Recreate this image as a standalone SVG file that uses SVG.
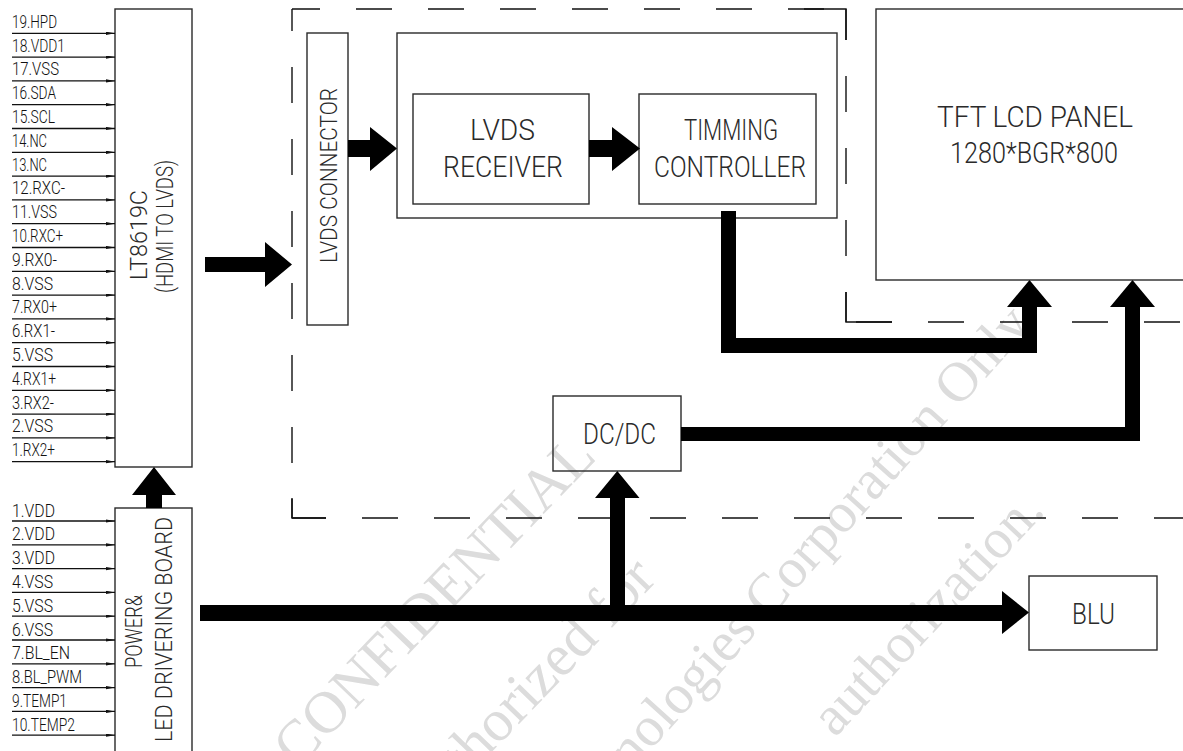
<svg xmlns="http://www.w3.org/2000/svg" width="1183" height="751" viewBox="0 0 1183 751">
<defs>
<marker id="pa" markerUnits="userSpaceOnUse" markerWidth="10" markerHeight="4" refX="9" refY="1.6" orient="auto">
<path d="M0,0 L9,1.6 L0,3.2 z" fill="#111"/>
</marker>
<style>
.bx{fill:none;stroke:#2a2a2a;stroke-width:1.4}
.pin{stroke:#111;stroke-width:1.3;marker-end:url(#pa)}
.pl{font-family:Roboto,"Liberation Sans",Arial,sans-serif;font-weight:300;font-size:19px;fill:#111}
.bt{font-family:Roboto,"Liberation Sans",Arial,sans-serif;font-weight:300;font-size:30px;fill:#2a2a2a;text-anchor:middle}
.rt{font-family:Roboto,"Liberation Sans",Arial,sans-serif;font-weight:300;font-size:23px;fill:#2a2a2a;text-anchor:middle}
.dash{fill:none;stroke:#111;stroke-width:1.4;stroke-dasharray:36 36}
.sol{fill:none;stroke:#111;stroke-width:1.4}
.bar{fill:#000;stroke:none}
.wm{font-family:"Liberation Serif","Times New Roman",serif;font-size:56px;fill:#dcdcdc}
</style>
</defs>
<rect width="1183" height="751" fill="#fff"/>

<g id="watermark">
<text class="wm" text-anchor="end" transform="translate(598,458) rotate(-46)" style="font-size:59px">CONFIDENTIAL</text>
<text class="wm" text-anchor="end" transform="translate(658,580) rotate(-46)" style="font-size:59px">Authorized for</text>
<text class="wm" text-anchor="end" transform="translate(1040,318) rotate(-48)">Technologies Corporation Only.</text>
<text class="wm" text-anchor="end" transform="translate(1046,512) rotate(-47)">authorization.</text>
</g>

<g id="dashed-boundary">
<line class="dash" x1="292" y1="9" x2="292" y2="518" stroke-dashoffset="14"/>
<line class="dash" x1="292" y1="9" x2="846" y2="9" stroke-dashoffset="8"/>
<line class="dash" x1="846" y1="9" x2="846" y2="322" stroke-dashoffset="5"/>
<line class="dash" x1="846" y1="322" x2="1183" y2="322" stroke-dashoffset="62"/>
<line class="dash" x1="292" y1="518" x2="1183" y2="518" stroke-dashoffset="2"/>
<path class="sol" d="M804,9 H846 V40 M846,292 V322 H892 M292,498 V518 H326"/>
</g>

<g id="lt8619c">
<rect class="bx" x="115" y="9" width="77" height="458"/>
<text class="rt" transform="translate(147,235) rotate(-90)" textLength="90" lengthAdjust="spacingAndGlyphs">LT8619C</text>
<text class="rt" transform="translate(173,226.5) rotate(-90)" textLength="133" lengthAdjust="spacingAndGlyphs">(HDMI TO LVDS)</text>
</g>

<g id="hdmi-pins">
<line class="pin" x1="12" y1="33.3" x2="115" y2="33.3"/>
<line class="pin" x1="12" y1="57.1" x2="115" y2="57.1"/>
<line class="pin" x1="12" y1="80.9" x2="115" y2="80.9"/>
<line class="pin" x1="12" y1="104.7" x2="115" y2="104.7"/>
<line class="pin" x1="12" y1="128.5" x2="115" y2="128.5"/>
<line class="pin" x1="12" y1="152.3" x2="115" y2="152.3"/>
<line class="pin" x1="12" y1="176.1" x2="115" y2="176.1"/>
<line class="pin" x1="12" y1="199.9" x2="115" y2="199.9"/>
<line class="pin" x1="12" y1="223.7" x2="115" y2="223.7"/>
<line class="pin" x1="12" y1="247.5" x2="115" y2="247.5"/>
<line class="pin" x1="12" y1="271.3" x2="115" y2="271.3"/>
<line class="pin" x1="12" y1="295.1" x2="115" y2="295.1"/>
<line class="pin" x1="12" y1="318.9" x2="115" y2="318.9"/>
<line class="pin" x1="12" y1="342.7" x2="115" y2="342.7"/>
<line class="pin" x1="12" y1="366.5" x2="115" y2="366.5"/>
<line class="pin" x1="12" y1="390.3" x2="115" y2="390.3"/>
<line class="pin" x1="12" y1="414.1" x2="115" y2="414.1"/>
<line class="pin" x1="12" y1="437.9" x2="115" y2="437.9"/>
<line class="pin" x1="12" y1="461.7" x2="115" y2="461.7"/>
<text class="pl" x="12" y="27.8" textLength="45" lengthAdjust="spacingAndGlyphs">19.HPD</text>
<text class="pl" x="12" y="51.6" textLength="53" lengthAdjust="spacingAndGlyphs">18.VDD1</text>
<text class="pl" x="12" y="75.4" textLength="47" lengthAdjust="spacingAndGlyphs">17.VSS</text>
<text class="pl" x="12" y="99.2" textLength="44" lengthAdjust="spacingAndGlyphs">16.SDA</text>
<text class="pl" x="12" y="123" textLength="43" lengthAdjust="spacingAndGlyphs">15.SCL</text>
<text class="pl" x="12" y="146.8" textLength="35" lengthAdjust="spacingAndGlyphs">14.NC</text>
<text class="pl" x="12" y="170.6" textLength="35" lengthAdjust="spacingAndGlyphs">13.NC</text>
<text class="pl" x="12" y="194.4" textLength="53" lengthAdjust="spacingAndGlyphs">12.RXC-</text>
<text class="pl" x="12" y="218.2" textLength="45" lengthAdjust="spacingAndGlyphs">11.VSS</text>
<text class="pl" x="12" y="242" textLength="51" lengthAdjust="spacingAndGlyphs">10.RXC+</text>
<text class="pl" x="12" y="265.8" textLength="45" lengthAdjust="spacingAndGlyphs">9.RX0-</text>
<text class="pl" x="12" y="289.6" textLength="41" lengthAdjust="spacingAndGlyphs">8.VSS</text>
<text class="pl" x="12" y="313.4" textLength="45" lengthAdjust="spacingAndGlyphs">7.RX0+</text>
<text class="pl" x="12" y="337.2" textLength="43" lengthAdjust="spacingAndGlyphs">6.RX1-</text>
<text class="pl" x="12" y="361" textLength="41" lengthAdjust="spacingAndGlyphs">5.VSS</text>
<text class="pl" x="12" y="384.8" textLength="44" lengthAdjust="spacingAndGlyphs">4.RX1+</text>
<text class="pl" x="12" y="408.6" textLength="42" lengthAdjust="spacingAndGlyphs">3.RX2-</text>
<text class="pl" x="12" y="432.4" textLength="41" lengthAdjust="spacingAndGlyphs">2.VSS</text>
<text class="pl" x="12" y="456.2" textLength="43" lengthAdjust="spacingAndGlyphs">1.RX2+</text>
</g>

<g id="power-board">
<rect class="bx" x="115" y="508" width="77" height="260"/>
<text class="rt" transform="translate(142,631.5) rotate(-90)" textLength="73" lengthAdjust="spacingAndGlyphs">POWER&amp;</text>
<text class="rt" transform="translate(172,629.5) rotate(-90)" textLength="225" lengthAdjust="spacingAndGlyphs">LED DRIVERING BOARD</text>
</g>

<g id="power-pins">
<line class="pin" x1="12" y1="521" x2="115" y2="521"/>
<line class="pin" x1="12" y1="544.8" x2="115" y2="544.8"/>
<line class="pin" x1="12" y1="568.6" x2="115" y2="568.6"/>
<line class="pin" x1="12" y1="592.4" x2="115" y2="592.4"/>
<line class="pin" x1="12" y1="616.2" x2="115" y2="616.2"/>
<line class="pin" x1="12" y1="640" x2="115" y2="640"/>
<line class="pin" x1="12" y1="663.8" x2="115" y2="663.8"/>
<line class="pin" x1="12" y1="687.6" x2="115" y2="687.6"/>
<line class="pin" x1="12" y1="711.4" x2="115" y2="711.4"/>
<line class="pin" x1="12" y1="735.2" x2="115" y2="735.2"/>
<text class="pl" x="12" y="516.5" textLength="43" lengthAdjust="spacingAndGlyphs">1.VDD</text>
<text class="pl" x="12" y="540.3" textLength="43" lengthAdjust="spacingAndGlyphs">2.VDD</text>
<text class="pl" x="12" y="564.1" textLength="43" lengthAdjust="spacingAndGlyphs">3.VDD</text>
<text class="pl" x="12" y="587.9" textLength="41" lengthAdjust="spacingAndGlyphs">4.VSS</text>
<text class="pl" x="12" y="611.7" textLength="41" lengthAdjust="spacingAndGlyphs">5.VSS</text>
<text class="pl" x="12" y="635.5" textLength="41" lengthAdjust="spacingAndGlyphs">6.VSS</text>
<text class="pl" x="12" y="659.3" textLength="58" lengthAdjust="spacingAndGlyphs">7.BL_EN</text>
<text class="pl" x="12" y="683.1" textLength="70" lengthAdjust="spacingAndGlyphs">8.BL_PWM</text>
<text class="pl" x="12" y="706.9" textLength="55" lengthAdjust="spacingAndGlyphs">9.TEMP1</text>
<text class="pl" x="12" y="730.7" textLength="63" lengthAdjust="spacingAndGlyphs">10.TEMP2</text>
</g>

<g id="lvds-connector">
<rect class="bx" x="307" y="33" width="41" height="292"/>
<text class="rt" transform="translate(336.5,175.5) rotate(-90)" textLength="175" lengthAdjust="spacingAndGlyphs">LVDS CONNECTOR</text>
</g>

<g id="tcon-board">
<rect class="bx" x="397" y="33" width="440" height="185"/>
</g>

<g id="lvds-receiver">
<rect class="bx" x="413" y="94" width="176" height="110"/>
<text class="bt" x="502.5" y="140" textLength="65" lengthAdjust="spacingAndGlyphs">LVDS</text>
<text class="bt" x="503" y="177" textLength="120" lengthAdjust="spacingAndGlyphs">RECEIVER</text>
</g>

<g id="timing-controller">
<rect class="bx" x="639" y="94" width="177" height="110"/>
<text class="bt" x="731" y="140" textLength="94" lengthAdjust="spacingAndGlyphs">TIMMING</text>
<text class="bt" x="730" y="177" textLength="152" lengthAdjust="spacingAndGlyphs">CONTROLLER</text>
</g>

<g id="tft-lcd-panel">
<rect class="bx" x="876" y="9" width="320" height="271"/>
<text class="bt" x="1035" y="127" textLength="196" lengthAdjust="spacingAndGlyphs">TFT LCD PANEL</text>
<text class="bt" x="1034" y="163" textLength="168" lengthAdjust="spacingAndGlyphs">1280*BGR*800</text>
</g>

<g id="dc-dc">
<rect class="bx" x="553" y="396" width="128" height="75"/>
<text class="bt" x="619.5" y="444" textLength="73" lengthAdjust="spacingAndGlyphs">DC/DC</text>
</g>

<g id="blu">
<rect class="bx" x="1029" y="576" width="128" height="74"/>
<text class="bt" x="1093.5" y="624" textLength="43" lengthAdjust="spacingAndGlyphs">BLU</text>
</g>

<g id="connectors">
<polygon class="bar" points="205,257 265,257 265,242 292,264.5 265,287 265,272 205,272"/>
<polygon class="bar" points="348,140 370,140 370,127 397,148.5 370,171 370,157 348,157"/>
<polygon class="bar" points="589,140 612,140 612,127 640,148.5 612,171 612,157 589,157"/>
<polygon class="bar" points="146,508 146,495 132,495 154,467 176,495 162,495 162,508"/>
<polygon class="bar" points="721,211 736,211 736,338 1022,338 1022,307 1007,307 1029.5,280 1052,307 1037,307 1037,353 721,353"/>
<polygon class="bar" points="681,427 1125,427 1125,307 1110,307 1132.5,280 1155,307 1140,307 1140,441 681,441"/>
<polygon class="bar" points="200,605 1002,605 1002,591 1029,612.5 1002,634 1002,621 200,621"/>
<polygon class="bar" points="610,605 610,498 595,498 617.3,471 639.5,498 625,498 625,605"/>
</g>
</svg>
